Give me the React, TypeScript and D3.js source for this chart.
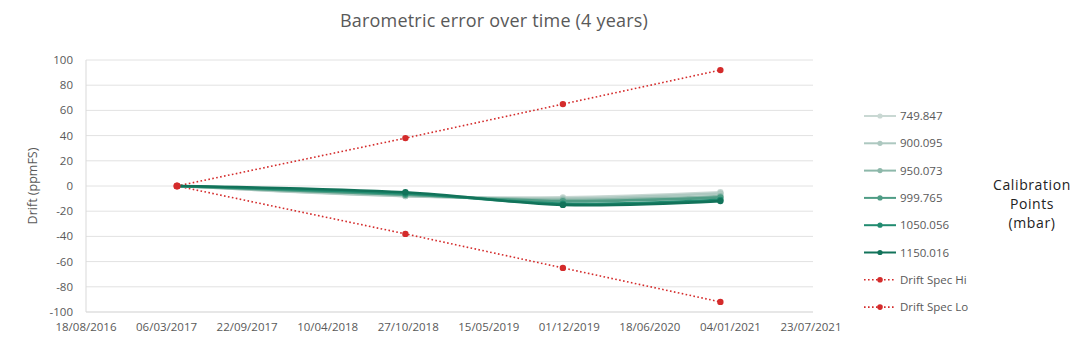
import React from "react";
import * as d3 from "d3";

const dates = ["2017-04-01", "2018-10-20", "2019-11-15", "2020-12-10"];
const xTickLabels = ["18/08/2016", "06/03/2017", "22/09/2017", "10/04/2018", "27/10/2018", "15/05/2019", "01/12/2019", "18/06/2020", "04/01/2021", "23/07/2021"];
const yTicks = [100, 80, 60, 40, 20, 0, -20, -40, -60, -80, -100];

const seriesNames = ["749.847", "900.095", "950.073", "999.765", "1050.056", "1150.016"];
const s749 = [0, -8, -9, -5];
const s900 = [0, -8, -10, -6];
const s950 = [0, -7, -11, -8];
const s999 = [0, -7, -12, -9];
const s1050 = [0, -6, -14, -11];
const s1150 = [0, -5, -15, -12];
const specHi = [0, 38, 65, 92];
const specLo = [0, -38, -65, -92];

const greenColors = ["#c9d8d3", "#adc8c0", "#8db8aa", "#4f9c85", "#218b70", "#12735a"];
const red = "#d42b2b";

export default function App() {
  const W = 1080, H = 350;
  const left = 86, right = 811, top = 60, bottom = 312;
  const parse = d3.timeParse("%Y-%m-%d");
  const tickParse = d3.timeParse("%d/%m/%Y");
  const tickDates = xTickLabels.map((t) => tickParse(t)!);
  const x = d3.scaleTime().domain([tickDates[0], tickDates[tickDates.length - 1]]).range([left, right]);
  const y = d3.scaleLinear().domain([-100, 100]).range([bottom, top]);
  const dx = dates.map((d) => parse(d)!);
  const line = d3
    .line<number>()
    .x((_, i) => x(dx[i]))
    .y((v) => y(v))
    .curve(d3.curveCatmullRom.alpha(0.5));
  const straight = d3
    .line<number>()
    .x((_, i) => x(dx[i]))
    .y((v) => y(v));
  const green = [s749, s900, s950, s999, s1050, s1150];
  const font = "'Open Sans', sans-serif";
  const txt = "#595959";
  const legendY = (i: number) => 116 + i * 27.3;
  const lx0 = 864, lx1 = 896;

  return (
    <svg width={W} height={H} style={{ position: "absolute", left: 0, top: 0, background: "#fff" }} fontFamily={font}>
      <text x={494} y={27} textAnchor="middle" fontSize={18} fill="#595959" letterSpacing={0.2}>
        Barometric error over time (4 years)
      </text>
      {yTicks.map((t) => (
        <g key={t}>
          <line x1={left} x2={813} y1={y(t)} y2={y(t)} stroke={t === -100 ? "#cfcfcf" : "#e2e2e2"} strokeWidth={1} />
          <text x={73} y={y(t) + 4} textAnchor="end" fontSize={11.5} fontWeight={500} fill={txt}>
            {t}
          </text>
        </g>
      ))}
      <line x1={left} x2={left} y1={top} y2={bottom} stroke="#d9d9d9" strokeWidth={1} />
      {tickDates.map((d, i) => (
        <text key={i} x={x(d)} y={331} textAnchor="middle" fontSize={11.5} fontWeight={500} fill={txt}>
          {xTickLabels[i]}
        </text>
      ))}
      <text transform={`translate(37,${y(0)}) rotate(-90)`} textAnchor="middle" fontSize={12.5} fontWeight={500} fill={txt}>
        Drift (ppmFS)
      </text>

      {[specHi, specLo].map((s, k) => (
        <g key={k}>
          <path d={straight(s)!} fill="none" stroke={red} strokeWidth={1.6} strokeDasharray="1.6 2.4" />
          {s.map((v, i) => (
            <circle key={i} cx={x(dx[i])} cy={y(v)} r={3.2} fill={red} />
          ))}
        </g>
      ))}
      {green.map((s, k) => (
        <g key={k}>
          <path d={line(s)!} fill="none" stroke={greenColors[k]} strokeWidth={2.6} strokeLinecap="round" />
          {s.map((v, i) =>
            i === 0 ? null : <circle key={i} cx={x(dx[i])} cy={y(v)} r={3.2} fill={greenColors[k]} />
          )}
        </g>
      ))}
      <circle cx={x(dx[0])} cy={y(0)} r={3.6} fill={red} />

      {seriesNames.map((n, i) => (
        <g key={n}>
          <line x1={lx0} x2={lx1} y1={legendY(i)} y2={legendY(i)} stroke={greenColors[i]} strokeWidth={2} />
          <circle cx={(lx0 + lx1) / 2} cy={legendY(i)} r={2.6} fill={greenColors[i]} />
          <text x={900} y={legendY(i) + 4} fontSize={11.5} fontWeight={500} fill={txt}>
            {n}
          </text>
        </g>
      ))}
      {["Drift Spec Hi", "Drift Spec Lo"].map((n, j) => {
        const i = 6 + j;
        return (
          <g key={n}>
            <line x1={lx0} x2={lx1} y1={legendY(i)} y2={legendY(i)} stroke={red} strokeWidth={1.6} strokeDasharray="1.6 2.4" />
            <circle cx={(lx0 + lx1) / 2} cy={legendY(i)} r={2.8} fill={red} />
            <text x={900} y={legendY(i) + 4} fontSize={11.5} fontWeight={500} fill={txt}>
              {n}
            </text>
          </g>
        );
      })}
      <text x={1032} textAnchor="middle" fontSize={14} fill="#222" letterSpacing={0.6}>
        <tspan x={1032} y={190}>Calibration</tspan>
        <tspan x={1032} y={209}>Points</tspan>
        <tspan x={1032} y={228}>(mbar)</tspan>
      </text>
    </svg>
  );
}
